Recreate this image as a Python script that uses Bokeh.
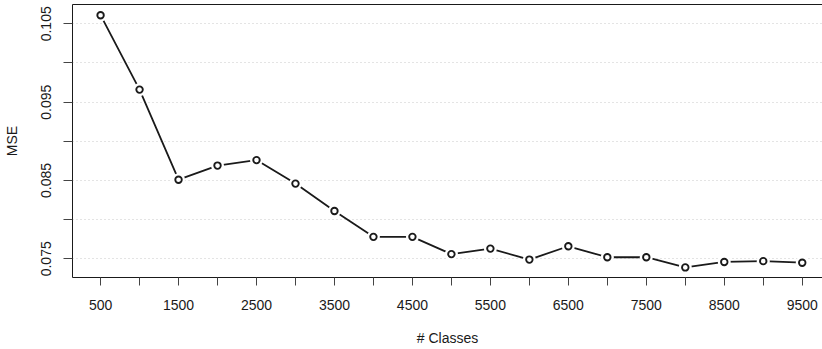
from bokeh.plotting import figure
from bokeh.models import FixedTicker, LinearAxis, Range1d
from bokeh.embed import file_html
from bokeh.resources import INLINE

# ---- data ----
classes = [500, 1000, 1500, 2000, 2500, 3000, 3500, 4000, 4500, 5000,
           5500, 6000, 6500, 7000, 7500, 8000, 8500, 9000, 9500]
mse = [0.1061, 0.0966, 0.0851, 0.0869, 0.0876, 0.0846, 0.0811, 0.0778, 0.0778, 0.0756,
       0.0763, 0.0749, 0.0766, 0.0752, 0.0752, 0.0739, 0.0746, 0.0747, 0.0745]

x_ticks = [500, 1000, 1500, 2000, 2500, 3000, 3500, 4000, 4500, 5000,
           5500, 6000, 6500, 7000, 7500, 8000, 8500, 9000, 9500]
x_tick_labels = ["500", "", "1500", "", "2500", "", "3500", "", "4500", "",
                 "5500", "", "6500", "", "7500", "", "8500", "", "9500"]
y_ticks = [0.075, 0.080, 0.085, 0.090, 0.095, 0.100, 0.105]
y_tick_labels = ["0.075", "", "0.085", "", "0.095", "", "0.105"]

FONT = "Liberation Sans"
FS = "14px"
INK = "#1a1a1a"

p = figure(width=822, height=349, output_backend="svg", toolbar_location=None,
           x_range=Range1d(140, 9760), y_range=Range1d(0.072613, 0.107464),
           min_border_left=72, min_border_right=0, min_border_top=4, min_border_bottom=72,
           x_axis_label="# Classes", y_axis_label="MSE")
p.outline_line_color = None
p.background_fill_color = "white"
p.border_fill_color = "white"

# grid: dotted light gray horizontal lines only
p.xgrid.visible = False
p.ygrid.ticker = FixedTicker(ticks=y_ticks)
p.ygrid.grid_line_color = "#c8c8c8"
p.ygrid.grid_line_dash = "1 3"
p.ygrid.grid_line_width = 1

# x axis
xa = p.xaxis[0]
xa.ticker = FixedTicker(ticks=x_ticks, minor_ticks=[])
xa.major_label_overrides = {t: l for t, l in zip(x_ticks, x_tick_labels)}
xa.axis_line_color = INK
xa.major_tick_line_color = "#444444"
xa.major_tick_out = 8
xa.major_tick_in = 0
xa.minor_tick_line_color = None
xa.major_label_standoff = 14
xa.major_label_text_font = FONT
xa.major_label_text_font_size = FS
xa.major_label_text_color = INK
xa.axis_label_standoff = 17
xa.axis_label_text_font = FONT
xa.axis_label_text_font_size = FS
xa.axis_label_text_font_style = "normal"
xa.axis_label_text_color = INK

# y axis
ya = p.yaxis[0]
ya.ticker = FixedTicker(ticks=y_ticks, minor_ticks=[])
ya.major_label_overrides = {t: l for t, l in zip(y_ticks, y_tick_labels)}
ya.major_label_orientation = "vertical"
ya.axis_line_color = INK
ya.major_tick_line_color = "#444444"
ya.major_tick_out = 9
ya.major_tick_in = 0
ya.minor_tick_line_color = None
ya.major_label_standoff = 12
ya.major_label_text_font = FONT
ya.major_label_text_font_size = FS
ya.major_label_text_color = INK
ya.axis_label_standoff = 19
ya.axis_label_text_font = FONT
ya.axis_label_text_font_size = FS
ya.axis_label_text_font_style = "normal"
ya.axis_label_text_color = INK

# top edge of the box
top = LinearAxis(ticker=FixedTicker(ticks=[]), axis_line_color=INK,
                 major_tick_out=0, major_tick_in=0, minor_tick_out=0, minor_tick_in=0,
                 major_label_text_font_size="0px")
p.add_layout(top, "above")

# line with gaps around the points (R type="b")
p.line(classes, mse, line_color=INK, line_width=1.8)
p.scatter(classes, mse, size=13, fill_color="white", line_color=None)
p.scatter(classes, mse, size=6.5, fill_color="white", line_color=INK, line_width=1.9)

open("out.html", "w").write(file_html(p, INLINE))
